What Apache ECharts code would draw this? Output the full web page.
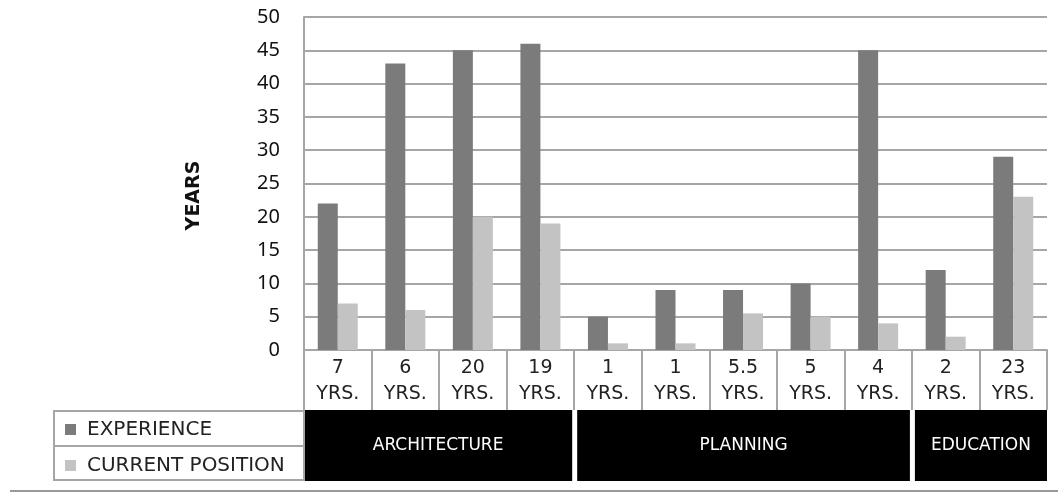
<!DOCTYPE html>
<html>
<head>
<meta charset="utf-8">
<script src="https://cdn.jsdelivr.net/npm/echarts@6/dist/echarts.min.js"></script>
<style>html,body{margin:0;padding:0;background:#fff}#c{width:1058px;height:493px}</style>
</head>
<body>
<div id="c"></div>
<script>
// ---- data ----
var tenure = ['7', '6', '20', '19', '1', '1', '5.5', '5', '4', '2', '23'];
var experience = [22, 43, 45, 46, 5, 9, 9, 10, 45, 12, 29];
var currentPosition = [7, 6, 20, 19, 1, 1, 5.5, 5, 4, 2, 23];
var groups = ['ARCHITECTURE', 'PLANNING', 'EDUCATION'];
var groupSizes = [4, 5, 2];
var yTicks = {min: 0, max: 50, interval: 5};

var groupData = [];
var acc = 0;
for (var i = 0; i < groups.length; i++) {
  groupData.push([acc, acc + groupSizes[i], groups[i]]);
  acc += groupSizes[i];
}
var total = tenure.length;

var grid = '#a6a6a6';
var txtFont = 'DejaVu Sans';
var chart = echarts.init(document.getElementById('c'));
chart.setOption({
  animation: false,
  backgroundColor: '#fff',
  grid: [
    {left: 304, right: 11, top: 17, bottom: 143},
    {left: 304, right: 11, top: 410, bottom: 12}
  ],
  legend: {
    orient: 'vertical',
    left: 60,
    top: 413,
    itemWidth: 11,
    itemHeight: 11,
    itemGap: 13,
    icon: 'rect',
    data: ['EXPERIENCE', 'CURRENT POSITION'],
    textStyle: {fontFamily: txtFont, fontSize: 20, color: '#222', lineHeight: 23, padding: [0, 0, 0, 6]}
  },
  xAxis: [
    {
      type: 'category', gridIndex: 0, data: tenure,
      axisLine: {show: true, lineStyle: {color: grid, width: 2}},
      axisTick: {show: true, length: 60, lineStyle: {color: grid, width: 2}},
      axisLabel: {
        margin: 5, fontFamily: txtFont, fontSize: 19, color: '#222', lineHeight: 26,
        formatter: function (v) { return v + '\nYRS.'; }
      }
    },
    {type: 'value', gridIndex: 1, min: 0, max: total, show: false}
  ],
  yAxis: [
    {
      type: 'value', gridIndex: 0, min: yTicks.min, max: yTicks.max, interval: yTicks.interval,
      name: 'YEARS', nameLocation: 'middle', nameGap: 100,
      nameTextStyle: {fontFamily: txtFont, fontSize: 19, fontWeight: 'bold', color: '#111', padding: [0, 24, 0, 0]},
      axisLine: {show: true, lineStyle: {color: grid, width: 2}},
      axisTick: {show: false},
      axisLabel: {fontFamily: 'Noto Sans', fontSize: 20, color: '#111', margin: 24},
      splitLine: {lineStyle: {color: grid, width: 2}}
    },
    {type: 'value', gridIndex: 1, min: 0, max: 1, show: false}
  ],
  series: [
    {
      name: 'EXPERIENCE', type: 'bar', xAxisIndex: 0, yAxisIndex: 0,
      data: experience, barWidth: 20, barGap: '0%',
      itemStyle: {color: '#7b7b7b'}
    },
    {
      name: 'CURRENT POSITION', type: 'bar', xAxisIndex: 0, yAxisIndex: 0,
      data: currentPosition, barWidth: 20, barGap: '0%',
      itemStyle: {color: '#c3c3c3'}
    },
    {
      type: 'custom', xAxisIndex: 1, yAxisIndex: 1, data: groupData,
      renderItem: function (params, api) {
        var s = api.value(0), e = api.value(1);
        var p0 = api.coord([s, 1]);
        var p1 = api.coord([e, 0]);
        var x0 = p0[0] + (s > 0 ? 3 : 0);
        var x1 = p1[0] - (e < total ? 2 : 0);
        return {
          type: 'rect',
          shape: {x: x0, y: p0[1], width: x1 - x0, height: p1[1] - p0[1]},
          style: {fill: '#000'},
          textContent: {style: {text: groupData[params.dataIndex][2], fill: '#fff', fontFamily: txtFont, fontSize: 17}},
          textConfig: {position: 'inside'}
        };
      }
    }
  ],
  graphic: [
    {type: 'rect', shape: {x: 54, y: 411, width: 250, height: 69}, style: {fill: 'none', stroke: grid, lineWidth: 2}, z: 10},
    {type: 'line', shape: {x1: 54, y1: 446, x2: 304, y2: 446}, style: {stroke: grid, lineWidth: 2}, z: 10},
    {type: 'line', shape: {x1: 10, y1: 491, x2: 1058, y2: 491}, style: {stroke: '#999', lineWidth: 2}, z: 10}
  ]
});
</script>
</body>
</html>
